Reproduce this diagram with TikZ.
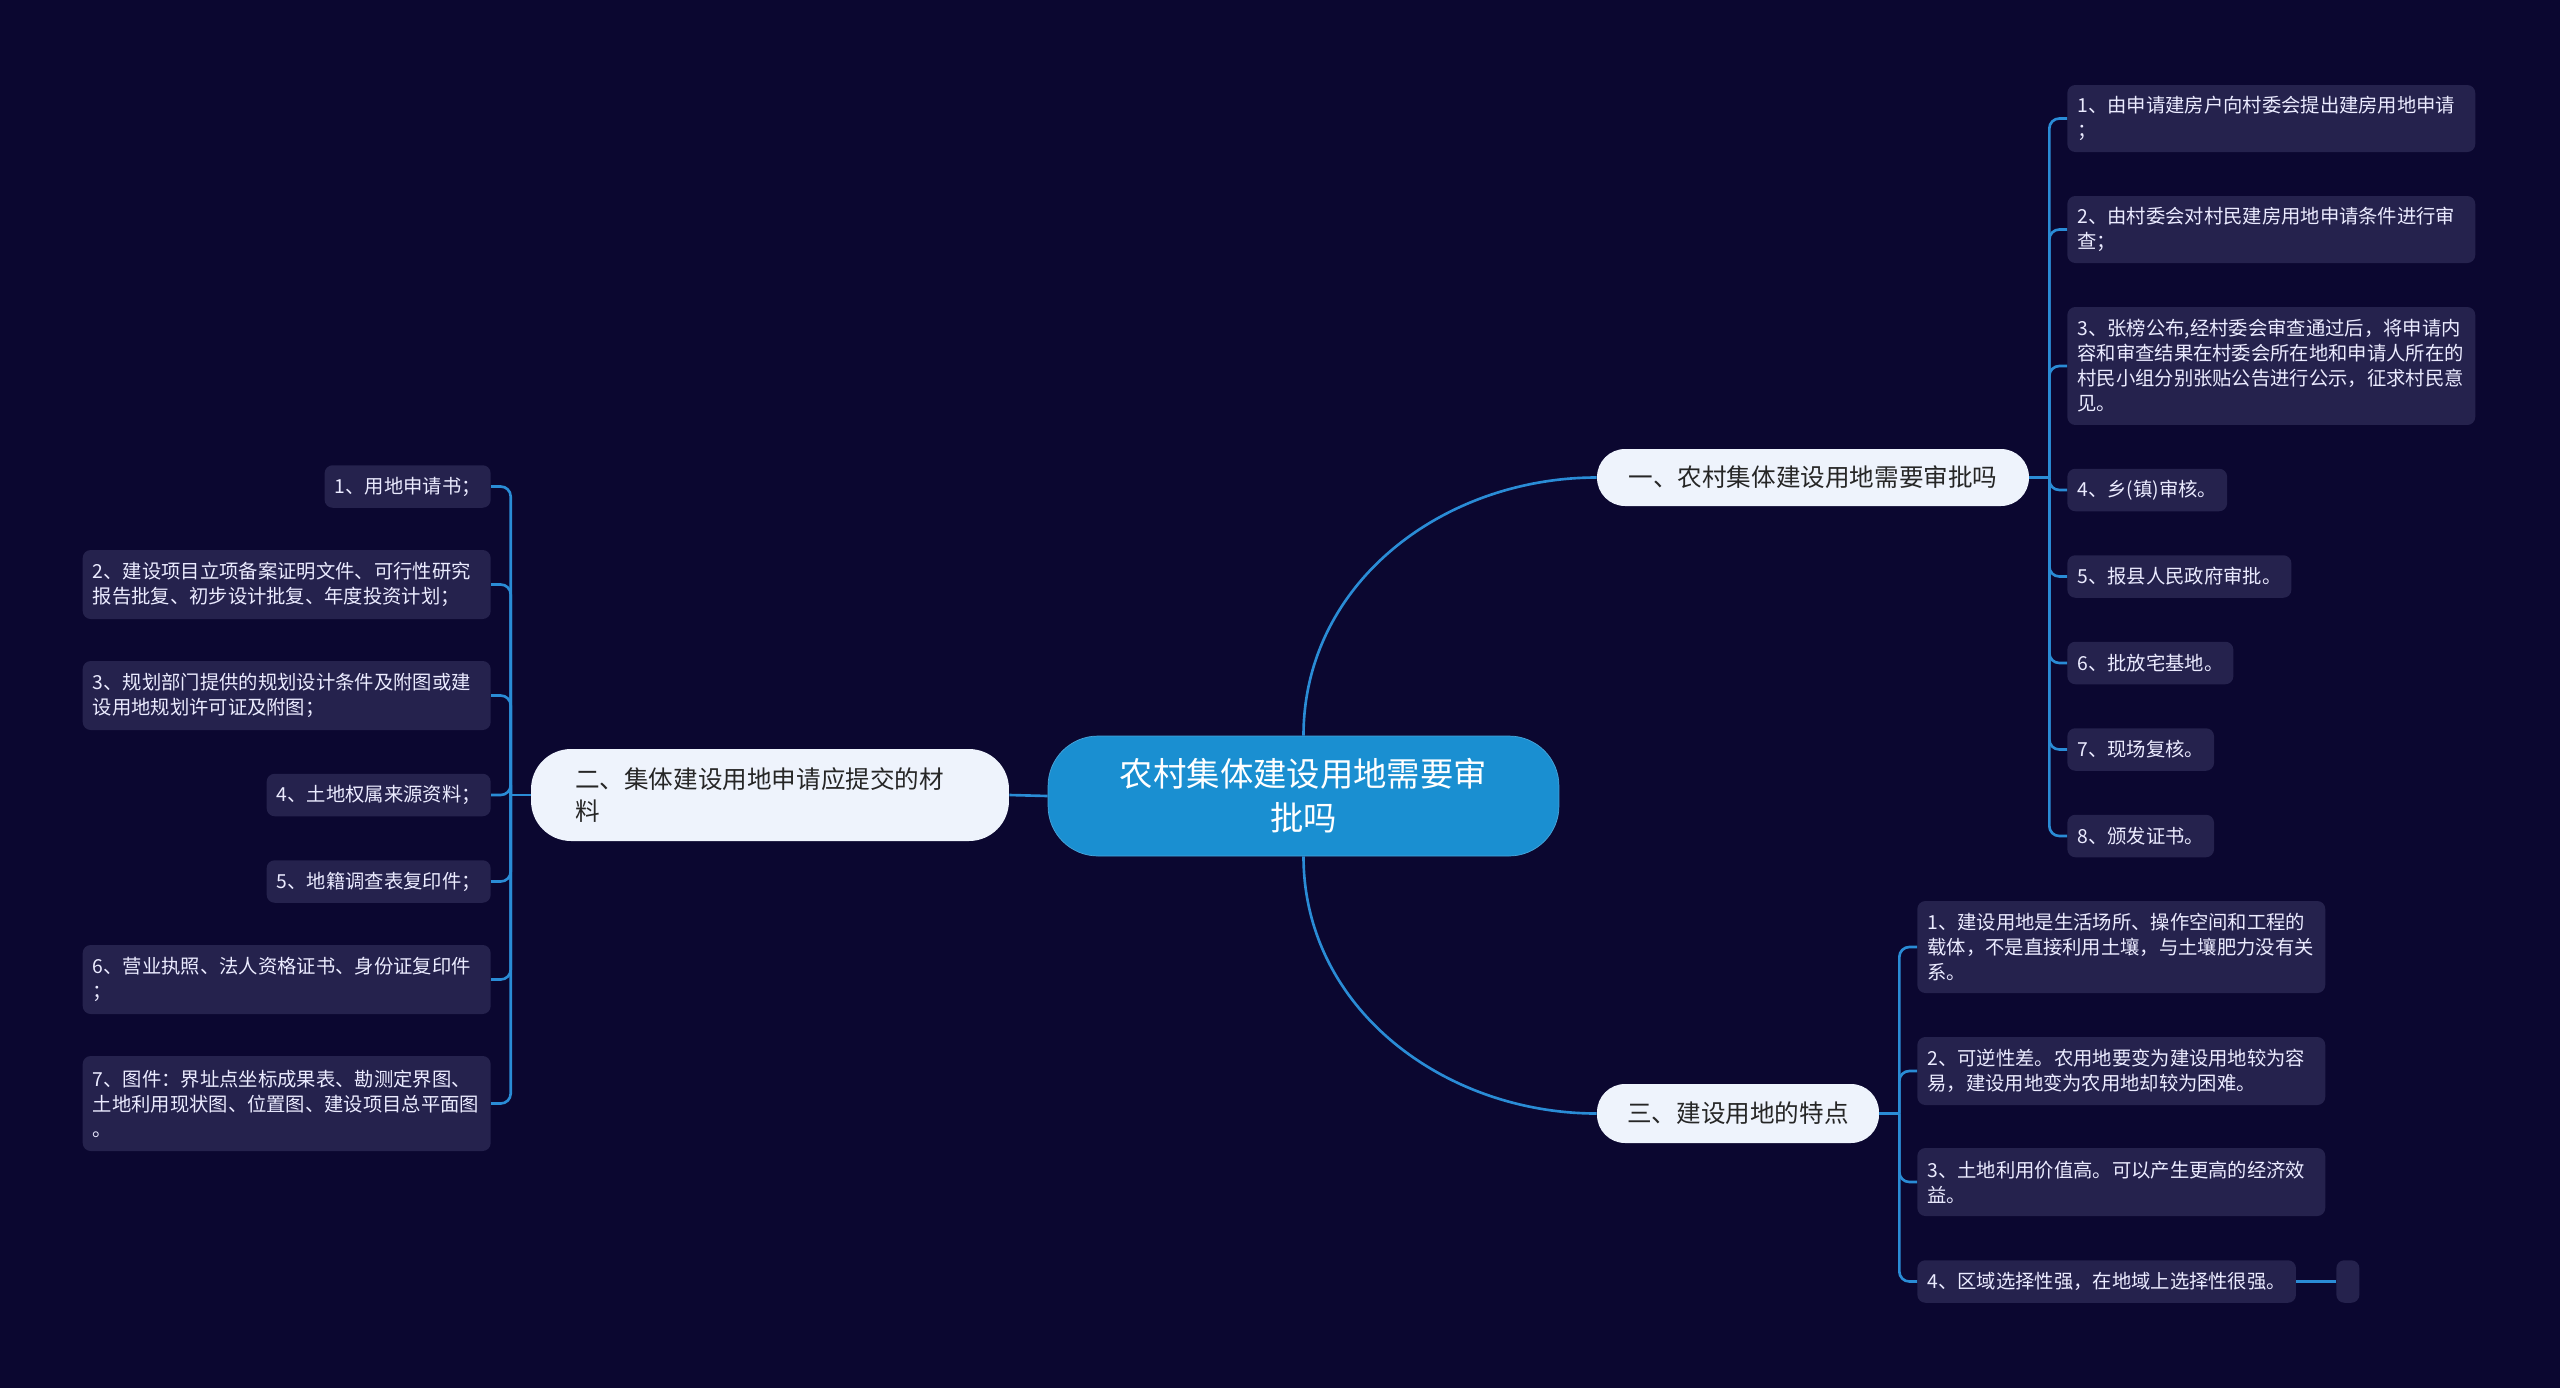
\documentclass[tikz,border=0pt]{standalone}
\usepackage{fontspec}
\setmainfont{Noto Sans CJK SC}
\usepackage{xcolor}
\usetikzlibrary{positioning}

\definecolor{bgc}{HTML}{0B0730}
\definecolor{leafc}{HTML}{25224D}
\definecolor{linkc}{HTML}{2A8CD6}
\definecolor{rootc}{HTML}{1A8FD1}
\definecolor{branchc}{HTML}{EEF3FC}

\begin{document}
\begin{tikzpicture}[
		x=0.02cm, y=-0.02cm,
		root/.style={fill=rootc, draw=rootc!80!white, rounded corners=1cm, text=white,
			minimum width=10.22cm, minimum height=2.4cm, text width=8cm, align=center,
			font=\fontsize{19pt}{25pt}\selectfont},
		branch/.style={fill=branchc, rounded corners=0.56cm, text=black!85,
			font=\fontsize{14pt}{18.7pt}\selectfont},
		leaf/.style={fill=leafc, rounded corners=0.16cm, text=white!92!blue,
			inner xsep=0.2cm, inner ysep=0pt, align=left,
			font=\fontsize{11pt}{14.2pt}\selectfont, minimum height=0.85cm},
		leafwide/.style={leaf, text width=7.76cm},
		link/.style={draw=linkc, line width=1.5pt},
		fork/.style={link, rounded corners=0.2cm}
		]
		
		% fond
		\useasboundingbox (0,0) rectangle (2560,1387);
		\fill[bgc] (-20,-20) rectangle (2580,1407);
		
		% centre et branches
		\node[root] (ctr) at (1303.5,796) {农村集体建设用地需要审\\批吗};
		\node[branch, minimum width=8.64cm, minimum height=1.14cm] (b1) at (1813,477.5) {一、农村集体建设用地需要审批吗};
		\node[branch, rounded corners=0.8cm, minimum height=1.84cm, text width=7.8cm, inner xsep=0.88cm, align=left,] (b2) at (770,795) {二、集体建设用地申请应提交的材\\料};
		\node[branch, minimum width=5.64cm, minimum height=1.18cm] (b3) at (1738,1113.5) {三、建设用地的特点};
		
		\draw[link] (ctr.north) to[out=90, in=180] (b1.west);
		\draw[link] (ctr.south) to[out=-90, in=180] (b3.west);
		\draw[link] (ctr.west) -- (b2.east);
		
		% branche un
		\node[leafwide, anchor=west, minimum height=1.34cm] (r1) at (2067,118.5) {1、由申请建房户向村委会提出建房用地申请\\；};
		\node[leafwide, anchor=west, minimum height=1.34cm] (r2) at (2067,229.5) {2、由村委会对村民建房用地申请条件进行审\\查；};
		\node[leafwide, anchor=west, minimum height=2.36cm] (r3) at (2067,366) {3、张榜公布,经村委会审查通过后，将申请内\\容和审查结果在村委会所在地和申请人所在的\\村民小组分别张贴公告进行公示，征求村民意\\见。};
		\node[leaf, anchor=west] (r4) at (2067,490) {4、乡(镇)审核。};
		\node[leaf, anchor=west] (r5) at (2067,576.5) {5、报县人民政府审批。};
		\node[leaf, anchor=west] (r6) at (2067,663) {6、批放宅基地。};
		\node[leaf, anchor=west] (r7) at (2067,749.5) {7、现场复核。};
		\node[leaf, anchor=west] (r8) at (2067,836) {8、颁发证书。};
		
		\coordinate (t1) at ([xshift=0.4cm]b1.east);
		\draw[link] (b1.east) -- (t1);
		\foreach \n in {r1,r2,r3,r4,r5,r6,r7,r8}
			\draw[fork] (t1) |- (\n.west);
		
		% branche deux
		\node[leaf, anchor=east] (l1) at (491,486.5) {1、用地申请书；};
		\node[leafwide, anchor=east, minimum height=1.38cm] (l2) at (491,584.5) {2、建设项目立项备案证明文件、可行性研究\\报告批复、初步设计批复、年度投资计划；};
		\node[leafwide, anchor=east, minimum height=1.38cm] (l3) at (491,695.5) {3、规划部门提供的规划设计条件及附图或建\\设用地规划许可证及附图；};
		\node[leaf, anchor=east] (l4) at (491,795) {4、土地权属来源资料；};
		\node[leaf, anchor=east] (l5) at (491,881.5) {5、地籍调查表复印件；};
		\node[leafwide, anchor=east, minimum height=1.38cm] (l6) at (491,979.5) {6、营业执照、法人资格证书、身份证复印件\\；};
		\node[leafwide, anchor=east, minimum height=1.9cm] (l7) at (491,1103.5) {7、图件：界址点坐标成果表、勘测定界图、\\土地利用现状图、位置图、建设项目总平面图\\。};
		
		\coordinate (t2) at ([xshift=-0.4cm]b2.west);
		\draw[link] (b2.west) -- (t2);
		\foreach \n in {l1,l2,l3,l4,l5,l6,l7}
			\draw[fork] (t2) |- (\n.east);
		
		% branche trois
		\node[leafwide, anchor=west, minimum height=1.84cm] (s1) at (1917,947) {1、建设用地是生活场所、操作空间和工程的\\载体，不是直接利用土壤，与土壤肥力没有关\\系。};
		\node[leafwide, anchor=west, minimum height=1.36cm] (s2) at (1917,1071) {2、可逆性差。农用地要变为建设用地较为容\\易，建设用地变为农用地却较为困难。};
		\node[leafwide, anchor=west, minimum height=1.36cm] (s3) at (1917,1182) {3、土地利用价值高。可以产生更高的经济效\\益。};
		\node[leaf, anchor=west] (s4) at (1917,1281.5) {4、区域选择性强，在地域上选择性很强。};
		\node[leaf, anchor=west, inner xsep=0pt, minimum width=0.46cm] (s5) at (2336,1281.5) {};
		
		\coordinate (t3) at ([xshift=0.4cm]b3.east);
		\draw[link] (b3.east) -- (t3);
		\foreach \n in {s1,s2,s3,s4}
			\draw[fork] (t3) |- (\n.west);
		\draw[link] (s4.east) -- (s5.west);
	\end{tikzpicture}
\end{document}
